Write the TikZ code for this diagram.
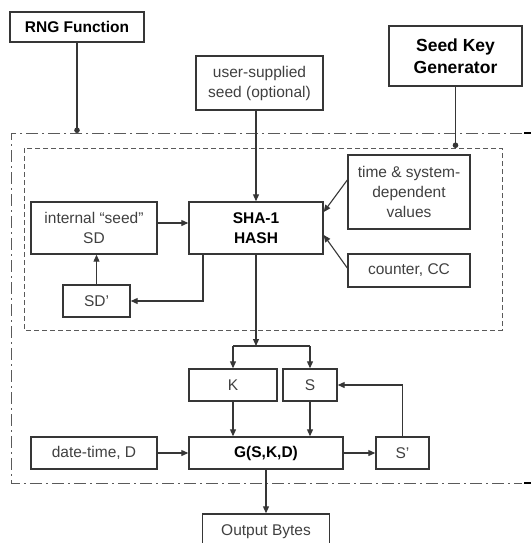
\documentclass[tikz,border=0pt]{standalone}
\usepackage{fontspec}
\setmainfont{Liberation Sans}
\usetikzlibrary{arrows.meta,positioning,calc}
\definecolor{boxgray}{HTML}{363636}
\definecolor{txtgray}{HTML}{404040}
\definecolor{framegray}{HTML}{5A5A5A}

\begin{document}
\begin{tikzpicture}[x=1pt,y=-1pt,
    font=\fontsize{15.5}{20}\selectfont,
    box/.style={draw=boxgray,line width=1.4pt,align=center,inner sep=1pt,text=txtgray},
    boldbox/.style={box,text=black,font=\fontsize{15.5}{20}\selectfont\bfseries},
    link/.style={draw=boxgray,line width=1.1pt,-{Triangle[length=7pt,width=6pt]}},
    tap/.style={draw=boxgray,line width=1.1pt,-{Circle[length=5.5pt]}},
    outerframe/.style={draw=framegray,line width=1pt,dash pattern=on 12pt off 4pt on 2pt off 4pt},
    innerframe/.style={draw=framegray,line width=1pt,dash pattern=on 5pt off 3pt}
]
\useasboundingbox (0,0) rectangle (531,543);
\clip (0,0) rectangle (531,543);

\coordinate (otl) at (11,133);
\coordinate (itl) at (24,148);
\draw[outerframe] (522,133) -- (otl) -- (11,483) -- (522,483);
\draw[innerframe] (itl) rectangle (502,330);
\draw[line width=1.4pt] (524,133) -- (531,133) (524,483) -- (531,483);

\node[boldbox,minimum width=134pt,minimum height=30pt] (rng) at (77,27) {RNG Function};
\node[boldbox,font=\fontsize{17.5}{22}\selectfont\bfseries,minimum width=133pt,minimum height=60pt] (skg) at (455.5,56) {Seed Key\\Generator};
\node[box,minimum width=127pt,minimum height=54pt] (user) at (259.5,83) {user-supplied\\seed (optional)};
\node[boldbox,minimum width=134pt,minimum height=52pt] (sha) at (256,228) {SHA-1\\HASH};
\node[box,minimum width=126pt,minimum height=52pt] (sd) at (94,228) {internal ``seed''\\SD};
\node[box,minimum width=122pt,minimum height=74pt] (tsd) at (409,192) {time \& system-\\dependent\\values};
\node[box,minimum width=122pt,minimum height=33pt] (cc) at (409,270.5) {counter, CC};
\node[box,minimum width=67pt,minimum height=32pt] (sdp) at (96.5,301) {SD'};
\node[box,minimum width=88pt,minimum height=32pt] (k) at (233,385) {K};
\node[box,minimum width=54pt,minimum height=32pt] (s) at (310,385) {S};
\node[boldbox,minimum width=154pt,minimum height=32pt] (g) at (266,453) {G(S,K,D)};
\node[box,minimum width=126pt,minimum height=32pt] (dt) at (94,453) {date-time, D};
\node[box,minimum width=53pt,minimum height=32pt] (sp) at (402.5,453) {S'};
\node[box,minimum width=127pt,minimum height=36pt] (out) at (266,532) {Output Bytes};

\draw[tap] (rng.south) -- (rng.south |- otl);
\draw[tap] (skg.south) -- (skg.south |- itl);
\draw[link] (user.south -| sha) -- (sha.north);
\draw[link] ([yshift=5pt]sd.east) -- ([yshift=5pt]sha.west);
\draw[link] ([yshift=12pt]tsd.west) -- ([yshift=16pt]sha.east);
\draw[link] ([yshift=2.5pt]cc.west) -- ([yshift=-7pt]sha.east);
\draw[link] ([xshift=-53pt]sha.south) |- (sdp.east);
\draw[link] (sdp.north) -- (sdp.north |- sd.south);

\coordinate (split) at (256,346);
\draw[link] (sha.south) -- (split);
\draw[draw=boxgray,line width=1.1pt] (split -| k) -- (split -| s);
\draw[link] (split -| k) -- (k.north);
\draw[link] (split -| s) -- (s.north);
\draw[link] (k.south) -- (k.south |- g.north);
\draw[link] (s.south) -- (s.south |- g.north);
\draw[link] (dt.east) -- (g.west);
\draw[link] (g.east) -- (sp.west);
\draw[link] (sp.north) |- (s.east);
\draw[link] (g.south) -- (out.north);
\end{tikzpicture}
\end{document}
